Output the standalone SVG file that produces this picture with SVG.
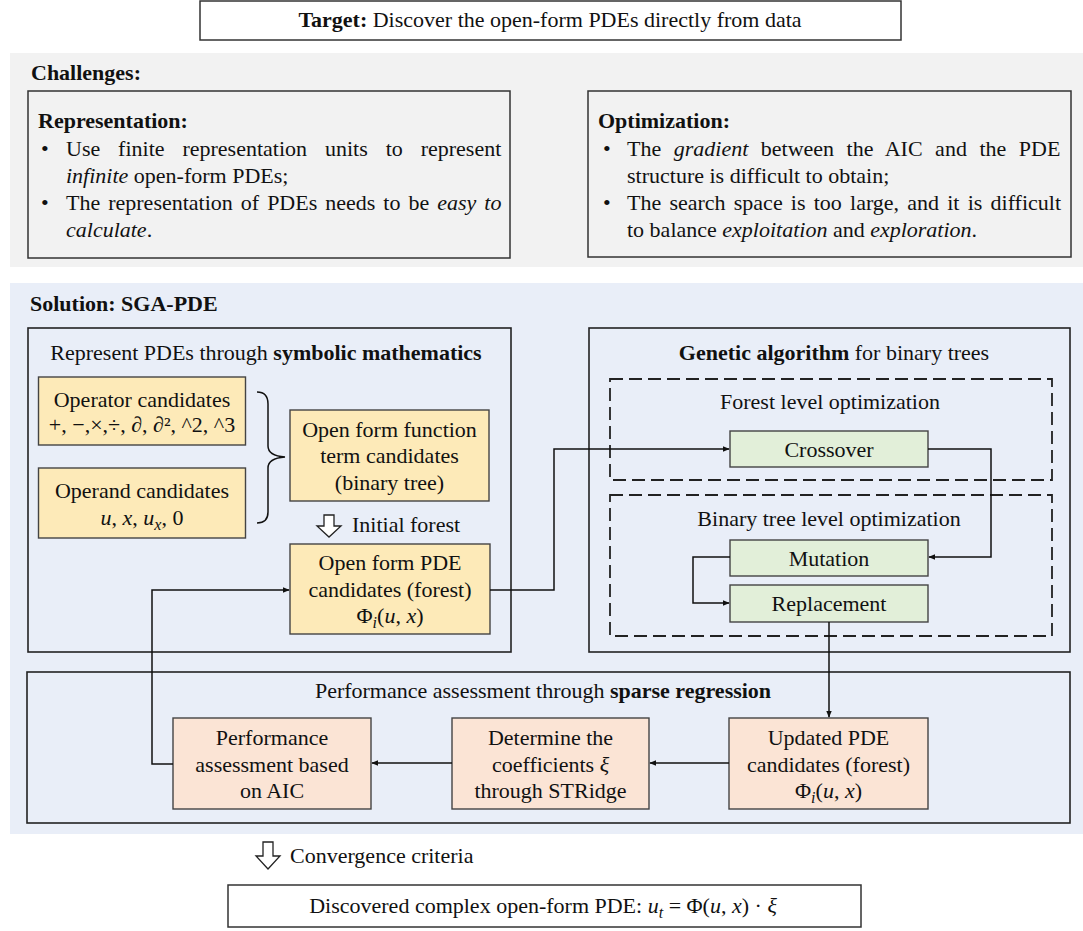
<svg xmlns="http://www.w3.org/2000/svg" width="1083" height="931" viewBox="0 0 1083 931">
<defs>
<style>
text{font-family:"Liberation Serif","Times New Roman",serif;font-size:22px;fill:#111}
.c{text-anchor:middle}
.b{font-weight:bold}
.i{font-style:italic}
.outer{fill:none;stroke:#222;stroke-width:1.6}
.panelbox{fill:#f2f2f2;stroke:#333;stroke-width:1.5}
.white{fill:#fff;stroke:#333;stroke-width:1.5}
.dash{fill:none;stroke:#222;stroke-width:1.8;stroke-dasharray:13,6}
.y{fill:#fdeab8;stroke:#444;stroke-width:1.4}
.g{fill:#e2efd9;stroke:#444;stroke-width:1.4}
.o{fill:#fbe4d5;stroke:#444;stroke-width:1.4}
.ln{fill:none;stroke:#111;stroke-width:1.5}
.hollow{fill:#fff;stroke:#222;stroke-width:1.3}
</style>
<marker id="ah" viewBox="0 0 10 10" refX="9" refY="5" markerWidth="7" markerHeight="7" orient="auto" markerUnits="userSpaceOnUse">
<path d="M0,1 L10,5 L0,9 z" fill="#111"/>
</marker>
</defs>

<g id="target">
<rect class="white" x="200" y="1" width="701" height="39"/>
<text class="c" x="550" y="27"><tspan class="b">Target:</tspan> Discover the open-form PDEs directly from data</text>
</g>

<g id="challenges">
<rect x="10" y="53" width="1073" height="214" fill="#f2f2f2"/>
<text class="b" x="31" y="80">Challenges:</text>
</g>

<g id="representation">
<rect class="panelbox" x="28" y="91" width="482" height="167"/>
<text class="b" x="38" y="128">Representation:</text>
<text x="41" y="156">•</text>
<text x="66" y="156" word-spacing="12.4">Use finite representation units to represent</text>
<text x="66" y="183"><tspan class="i">infinite</tspan> open-form PDEs;</text>
<text x="41" y="210">•</text>
<text x="66" y="210" word-spacing="2.5">The representation of PDEs needs to be <tspan class="i">easy to</tspan></text>
<text x="66" y="237"><tspan class="i">calculate</tspan>.</text>
</g>

<g id="optimization">
<rect class="panelbox" x="588" y="91" width="483" height="166"/>
<text class="b" x="598" y="128">Optimization:</text>
<text x="603" y="156">•</text>
<text x="627" y="156" word-spacing="7">The <tspan class="i">gradient</tspan> between the AIC and the PDE</text>
<text x="627" y="183">structure is difficult to obtain;</text>
<text x="603" y="210">•</text>
<text x="627" y="210" word-spacing="2.7">The search space is too large, and it is difficult</text>
<text x="627" y="237">to balance <tspan class="i">exploitation</tspan> and <tspan class="i">exploration</tspan>.</text>
</g>

<g id="solution">
<rect x="10" y="283" width="1073" height="551" fill="#e9eef8"/>
<text class="b" x="30" y="311">Solution: SGA-PDE</text>
</g>

<g id="symbolic">
<rect class="outer" x="28" y="328" width="483" height="324"/>
<text class="c" x="266" y="360">Represent PDEs through <tspan class="b">symbolic mathematics</tspan></text>
</g>

<g id="operator">
<rect class="y" x="38.5" y="377" width="207" height="68"/>
<text class="c" x="142" y="407">Operator candidates</text>
<text class="c" x="142" y="432">+, −,×,÷, <tspan class="i">∂</tspan>, <tspan class="i">∂</tspan>², ^2, ^3</text>
</g>

<g id="operand">
<rect class="y" x="38.5" y="468" width="207" height="70"/>
<text class="c" x="142" y="498">Operand candidates</text>
<text class="c" x="142" y="525"><tspan class="i">u</tspan>, <tspan class="i">x</tspan>, <tspan class="i">u</tspan><tspan class="i" font-size="16" dy="5">x</tspan><tspan dy="-5">, 0</tspan></text>
</g>

<g id="brace">
<path class="ln" d="M257,392 C264,392 268,395 268,404 L268,446 C268,452 272,456 285,457 C272,458 268,462 268,468 L268,512 C268,520 264,523 257,523"/>
</g>

<g id="function-term">
<rect class="y" x="290" y="410" width="199" height="91"/>
<text class="c" x="389.5" y="437">Open form function</text>
<text class="c" x="389.5" y="463">term candidates</text>
<text class="c" x="389.5" y="490">(binary tree)</text>
</g>

<g id="initial-forest">
<polygon class="hollow" points="324,515 334,515 334,526 341,526 329,537 317,526 324,526"/>
<text x="352" y="532">Initial forest</text>
</g>

<g id="pde-candidates">
<rect class="y" x="290" y="544" width="200" height="90"/>
<text class="c" x="390" y="570">Open form PDE</text>
<text class="c" x="390" y="597">candidates (forest)</text>
<text class="c" x="390" y="623">Φ<tspan class="i" font-size="16" dy="5">i</tspan><tspan dy="-5">(</tspan><tspan class="i">u</tspan>, <tspan class="i">x</tspan>)</text>
</g>

<g id="genetic">
<rect class="outer" x="589" y="328" width="481" height="324"/>
<text class="c" x="834" y="360"><tspan class="b">Genetic algorithm</tspan> for binary trees</text>
</g>

<g id="forest-level">
<rect class="dash" x="610" y="379" width="442" height="101"/>
<text class="c" x="830" y="409">Forest level optimization</text>
</g>

<g id="crossover">
<rect class="g" x="730" y="431" width="198" height="36"/>
<text class="c" x="829" y="457">Crossover</text>
</g>

<g id="tree-level">
<rect class="dash" x="610" y="495" width="442" height="141"/>
<text class="c" x="829" y="526">Binary tree level optimization</text>
</g>

<g id="mutation">
<rect class="g" x="730" y="540" width="198" height="36"/>
<text class="c" x="829" y="566">Mutation</text>
</g>

<g id="replacement">
<rect class="g" x="730" y="585" width="198" height="37"/>
<text class="c" x="829" y="611">Replacement</text>
</g>

<g id="sparse">
<rect class="outer" x="27" y="672" width="1043" height="151"/>
<text class="c" x="543" y="698">Performance assessment through <tspan class="b">sparse regression</tspan></text>
</g>

<g id="aic">
<rect class="o" x="173" y="718" width="198" height="91"/>
<text class="c" x="272" y="745">Performance</text>
<text class="c" x="272" y="772">assessment based</text>
<text class="c" x="272" y="798">on AIC</text>
</g>

<g id="stridge">
<rect class="o" x="452" y="718" width="197" height="91"/>
<text class="c" x="550.5" y="745">Determine the</text>
<text class="c" x="550.5" y="772">coefficients <tspan class="i">ξ</tspan></text>
<text class="c" x="550.5" y="798">through STRidge</text>
</g>

<g id="updated">
<rect class="o" x="729" y="718" width="199" height="91"/>
<text class="c" x="828.5" y="745">Updated PDE</text>
<text class="c" x="828.5" y="772">candidates (forest)</text>
<text class="c" x="828.5" y="798">Φ<tspan class="i" font-size="16" dy="5">i</tspan><tspan dy="-5">(</tspan><tspan class="i">u</tspan>, <tspan class="i">x</tspan>)</text>
</g>

<g id="convergence">
<polygon class="hollow" points="263,842 273,842 273,856 280,856 268,869 256,856 263,856"/>
<text x="290" y="863">Convergence criteria</text>
</g>

<g id="result">
<rect class="white" x="228" y="885" width="633" height="42"/>
<text class="c" x="543" y="913">Discovered complex open-form PDE: <tspan class="i">u</tspan><tspan class="i" font-size="16" dy="5">t</tspan><tspan dy="-5"> = Φ(</tspan><tspan class="i">u</tspan>, <tspan class="i">x</tspan>) · <tspan class="i">ξ</tspan></text>
</g>

<g id="connectors">
<polyline class="ln" points="490,590 554,590 554,449 729,449" marker-end="url(#ah)"/>
<polyline class="ln" points="928,449 991,449 991,557 929,557" marker-end="url(#ah)"/>
<polyline class="ln" points="730,557 693,557 693,603 729,603" marker-end="url(#ah)"/>
<polyline class="ln" points="829,622 829,717" marker-end="url(#ah)"/>
<polyline class="ln" points="729,763 650,763" marker-end="url(#ah)"/>
<polyline class="ln" points="452,763 372,763" marker-end="url(#ah)"/>
<polyline class="ln" points="173,764 152,764 152,590 289,590" marker-end="url(#ah)"/>
</g>
</svg>
